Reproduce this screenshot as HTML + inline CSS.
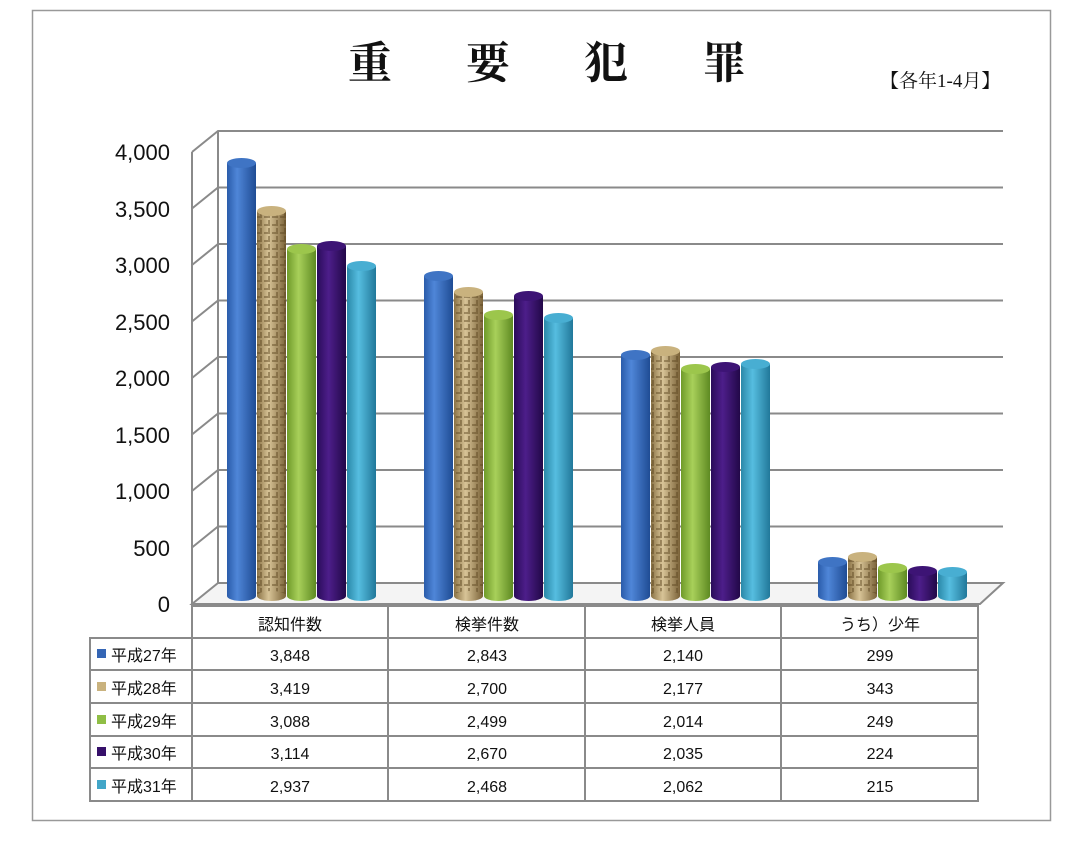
<!DOCTYPE html>
<html><head><meta charset="utf-8"><style>
body{margin:0;background:#fff;}
svg{display:block;font-family:"Liberation Sans","Noto Sans CJK JP",sans-serif;}
</style></head><body>
<svg width="1080" height="852" viewBox="0 0 1080 852">
<defs>
<linearGradient id="gb" x1="0" x2="1"><stop offset="0" stop-color="#2a5caa"/><stop offset=".35" stop-color="#4f86d8"/><stop offset="1" stop-color="#1f4c94"/></linearGradient>
<linearGradient id="gt" x1="0" x2="1"><stop offset="0" stop-color="#8a7245"/><stop offset=".4" stop-color="#d8c497"/><stop offset="1" stop-color="#7a6238"/></linearGradient>
<linearGradient id="gg" x1="0" x2="1"><stop offset="0" stop-color="#6f9a2a"/><stop offset=".4" stop-color="#a8d05a"/><stop offset="1" stop-color="#5e8a22"/></linearGradient>
<linearGradient id="gp" x1="0" x2="1"><stop offset="0" stop-color="#2a0c5a"/><stop offset=".4" stop-color="#4d1e8a"/><stop offset="1" stop-color="#220848"/></linearGradient>
<linearGradient id="gc" x1="0" x2="1"><stop offset="0" stop-color="#2a88a8"/><stop offset=".4" stop-color="#56bde0"/><stop offset="1" stop-color="#21789a"/></linearGradient>
<pattern id="weave" width="8" height="8" patternUnits="userSpaceOnUse"><rect x="0" y="0" width="6" height="2" fill="#5a4520" opacity=".45"/><rect x="4" y="4" width="2" height="4" fill="#5a4520" opacity=".45"/></pattern>
</defs>
<rect x="32.5" y="10.5" width="1018" height="810" fill="#fff" stroke="#999" stroke-width="1.5"/>
<g font-family="'Liberation Serif','Noto Serif CJK SC',serif" fill="#111">
<text x="348" y="78" font-size="44" font-weight="bold" letter-spacing="74">重要犯罪</text>
<text x="880" y="87" font-size="19">【各年1-4月】</text>
</g>
<g stroke="#8a8a8a" stroke-width="2" fill="none">
<line x1="192" y1="152" x2="192" y2="604"/>
<line x1="218" y1="131" x2="218" y2="583"/>
<path d="M192 152L218 131H1003"/><path d="M192 208.5L218 187.5H1003"/><path d="M192 265L218 244H1003"/><path d="M192 321.5L218 300.5H1003"/><path d="M192 378L218 357H1003"/><path d="M192 434.5L218 413.5H1003"/><path d="M192 491L218 470H1003"/><path d="M192 547.5L218 526.5H1003"/>
<path d="M192 604L218 583H1003L980 604Z" fill="#f4f4f4"/>
</g>
<g font-size="22" fill="#111" text-anchor="end">
<text x="170" y="160">4,000</text><text x="170" y="217">3,500</text><text x="170" y="273">3,000</text><text x="170" y="330">2,500</text><text x="170" y="386">2,000</text><text x="170" y="443">1,500</text><text x="170" y="499">1,000</text><text x="170" y="556">500</text><text x="170" y="612">0</text>
</g>
<!-- bars group 1 -->
<g>
<rect x="227" y="163" width="29" height="433" fill="url(#gb)"/><ellipse cx="241.5" cy="596" rx="14.5" ry="5" fill="url(#gb)"/><ellipse cx="241.5" cy="163" rx="14.5" ry="5" fill="#3f74c4"/>
<rect x="257" y="211" width="29" height="385" fill="url(#gt)"/><rect x="257" y="211" width="29" height="385" fill="url(#weave)"/><ellipse cx="271.5" cy="596" rx="14.5" ry="5" fill="url(#gt)"/><ellipse cx="271.5" cy="211" rx="14.5" ry="5" fill="#c9b27e"/>
<rect x="287" y="249" width="29" height="347" fill="url(#gg)"/><ellipse cx="301.5" cy="596" rx="14.5" ry="5" fill="url(#gg)"/><ellipse cx="301.5" cy="249" rx="14.5" ry="5" fill="#9cc64c"/>
<rect x="317" y="246" width="29" height="350" fill="url(#gp)"/><ellipse cx="331.5" cy="596" rx="14.5" ry="5" fill="url(#gp)"/><ellipse cx="331.5" cy="246" rx="14.5" ry="5" fill="#3d1475"/>
<rect x="347" y="266" width="29" height="330" fill="url(#gc)"/><ellipse cx="361.5" cy="596" rx="14.5" ry="5" fill="url(#gc)"/><ellipse cx="361.5" cy="266" rx="14.5" ry="5" fill="#48aed2"/>
</g>
<g>
<rect x="424" y="276" width="29" height="320" fill="url(#gb)"/><ellipse cx="438.5" cy="596" rx="14.5" ry="5" fill="url(#gb)"/><ellipse cx="438.5" cy="276" rx="14.5" ry="5" fill="#3f74c4"/>
<rect x="454" y="292" width="29" height="304" fill="url(#gt)"/><rect x="454" y="292" width="29" height="304" fill="url(#weave)"/><ellipse cx="468.5" cy="596" rx="14.5" ry="5" fill="url(#gt)"/><ellipse cx="468.5" cy="292" rx="14.5" ry="5" fill="#c9b27e"/>
<rect x="484" y="315" width="29" height="281" fill="url(#gg)"/><ellipse cx="498.5" cy="596" rx="14.5" ry="5" fill="url(#gg)"/><ellipse cx="498.5" cy="315" rx="14.5" ry="5" fill="#9cc64c"/>
<rect x="514" y="296" width="29" height="300" fill="url(#gp)"/><ellipse cx="528.5" cy="596" rx="14.5" ry="5" fill="url(#gp)"/><ellipse cx="528.5" cy="296" rx="14.5" ry="5" fill="#3d1475"/>
<rect x="544" y="318" width="29" height="278" fill="url(#gc)"/><ellipse cx="558.5" cy="596" rx="14.5" ry="5" fill="url(#gc)"/><ellipse cx="558.5" cy="318" rx="14.5" ry="5" fill="#48aed2"/>
</g>
<g>
<rect x="621" y="355" width="29" height="241" fill="url(#gb)"/><ellipse cx="635.5" cy="596" rx="14.5" ry="5" fill="url(#gb)"/><ellipse cx="635.5" cy="355" rx="14.5" ry="5" fill="#3f74c4"/>
<rect x="651" y="351" width="29" height="245" fill="url(#gt)"/><rect x="651" y="351" width="29" height="245" fill="url(#weave)"/><ellipse cx="665.5" cy="596" rx="14.5" ry="5" fill="url(#gt)"/><ellipse cx="665.5" cy="351" rx="14.5" ry="5" fill="#c9b27e"/>
<rect x="681" y="369" width="29" height="227" fill="url(#gg)"/><ellipse cx="695.5" cy="596" rx="14.5" ry="5" fill="url(#gg)"/><ellipse cx="695.5" cy="369" rx="14.5" ry="5" fill="#9cc64c"/>
<rect x="711" y="367" width="29" height="229" fill="url(#gp)"/><ellipse cx="725.5" cy="596" rx="14.5" ry="5" fill="url(#gp)"/><ellipse cx="725.5" cy="367" rx="14.5" ry="5" fill="#3d1475"/>
<rect x="741" y="364" width="29" height="232" fill="url(#gc)"/><ellipse cx="755.5" cy="596" rx="14.5" ry="5" fill="url(#gc)"/><ellipse cx="755.5" cy="364" rx="14.5" ry="5" fill="#48aed2"/>
</g>
<g>
<rect x="818" y="562" width="29" height="34" fill="url(#gb)"/><ellipse cx="832.5" cy="596" rx="14.5" ry="5" fill="url(#gb)"/><ellipse cx="832.5" cy="562" rx="14.5" ry="5" fill="#3f74c4"/>
<rect x="848" y="557" width="29" height="39" fill="url(#gt)"/><rect x="848" y="557" width="29" height="39" fill="url(#weave)"/><ellipse cx="862.5" cy="596" rx="14.5" ry="5" fill="url(#gt)"/><ellipse cx="862.5" cy="557" rx="14.5" ry="5" fill="#c9b27e"/>
<rect x="878" y="568" width="29" height="28" fill="url(#gg)"/><ellipse cx="892.5" cy="596" rx="14.5" ry="5" fill="url(#gg)"/><ellipse cx="892.5" cy="568" rx="14.5" ry="5" fill="#9cc64c"/>
<rect x="908" y="571" width="29" height="25" fill="url(#gp)"/><ellipse cx="922.5" cy="596" rx="14.5" ry="5" fill="url(#gp)"/><ellipse cx="922.5" cy="571" rx="14.5" ry="5" fill="#3d1475"/>
<rect x="938" y="572" width="29" height="24" fill="url(#gc)"/><ellipse cx="952.5" cy="596" rx="14.5" ry="5" fill="url(#gc)"/><ellipse cx="952.5" cy="572" rx="14.5" ry="5" fill="#48aed2"/>
</g>
<!-- table -->
<g stroke="#8a8a8a" stroke-width="2" fill="none">
<rect x="192" y="606" width="786" height="195"/>
<rect x="90" y="638" width="102" height="163"/>
<line x1="90" y1="638" x2="978" y2="638"/><line x1="90" y1="670" x2="978" y2="670"/><line x1="90" y1="703" x2="978" y2="703"/><line x1="90" y1="736" x2="978" y2="736"/><line x1="90" y1="768" x2="978" y2="768"/>
<line x1="388" y1="606" x2="388" y2="801"/><line x1="585" y1="606" x2="585" y2="801"/><line x1="781" y1="606" x2="781" y2="801"/>
</g>
<g font-size="16" fill="#111" text-anchor="middle">
<text x="290" y="630">認知件数</text><text x="487" y="630">検挙件数</text><text x="683" y="630">検挙人員</text><text x="880" y="630">うち）少年</text>
<text x="290" y="661">3,848</text><text x="487" y="661">2,843</text><text x="683" y="661">2,140</text><text x="880" y="661">299</text>
<text x="290" y="694">3,419</text><text x="487" y="694">2,700</text><text x="683" y="694">2,177</text><text x="880" y="694">343</text>
<text x="290" y="727">3,088</text><text x="487" y="727">2,499</text><text x="683" y="727">2,014</text><text x="880" y="727">249</text>
<text x="290" y="759">3,114</text><text x="487" y="759">2,670</text><text x="683" y="759">2,035</text><text x="880" y="759">224</text>
<text x="290" y="792">2,937</text><text x="487" y="792">2,468</text><text x="683" y="792">2,062</text><text x="880" y="792">215</text>
</g>
<g font-size="16" fill="#111">
<rect x="97" y="649" width="9" height="9" fill="#3566b5"/><text x="111" y="661">平成27年</text>
<rect x="97" y="682" width="9" height="9" fill="#c9b27e"/><text x="111" y="694">平成28年</text>
<rect x="97" y="715" width="9" height="9" fill="#8fbe45"/><text x="111" y="727">平成29年</text>
<rect x="97" y="747" width="9" height="9" fill="#36106a"/><text x="111" y="759">平成30年</text>
<rect x="97" y="780" width="9" height="9" fill="#42a6c8"/><text x="111" y="792">平成31年</text>
</g>
</svg>
</body></html>
